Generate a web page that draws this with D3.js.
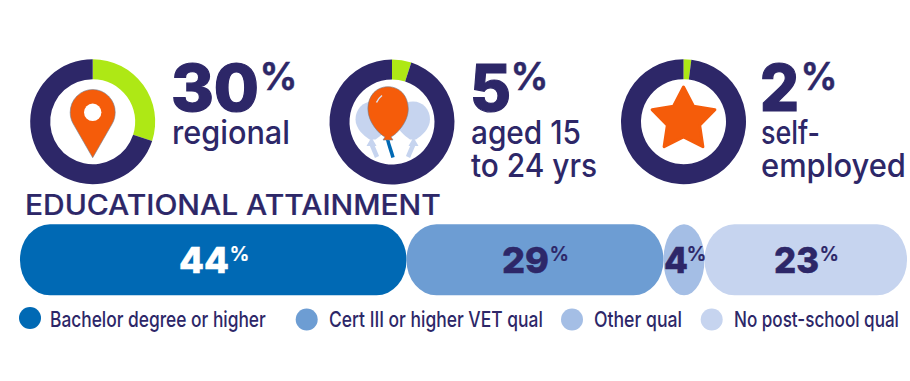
<!DOCTYPE html>
<html><head><meta charset="utf-8">
<script src="https://cdn.jsdelivr.net/npm/d3@7"></script>
<style>html,body{margin:0;background:#fff}svg{display:block}text{font-family:Inter,"Open Sans",sans-serif}</style>
</head><body><div id="c"></div>
<script>
const statValues=[30,5,2];
const statLabels=[["regional"],["aged 15","to 24 yrs"],["self-","employed"]];
const eduCategories=["Bachelor degree or higher","Cert III or higher VET qual","Other qual","No post-school qual"];
const eduValues=[44,29,4,23];
const eduColors=["#0069b4","#6d9dd3","#a4bee5","#c6d4ef"];
const navy="#2d2768",green="#aee815",orange="#f55c0a";

const W=910,H=381;
const svg=d3.select("#c").append("svg").attr("width",W).attr("height",H);

// Places a real text at x,y and scales it horizontally so that it is w pixels wide.
function fit(sel,x,y,w,size,weight,fill,str,thick){
  const t=sel.append("text").attr("font-size",size).attr("font-weight",weight)
    .attr("fill",fill).attr("stroke",thick?fill:"none").attr("stroke-width",thick||0).text(str);
  const sx=w/t.node().getComputedTextLength();
  t.attr("transform",`translate(${x},${y}) scale(${sx},1)`);
  return t;
}

// donuts
const donutLayout=[
 {cx:92.7,cy:121.7,numX:171,numW:88,pctX:259.5,pctW:38,labX:172,labW:[118]},
 {cx:392,cy:122,numX:470,numW:41,pctX:510.5,pctW:38,labX:471,labW:[110,126]},
 {cx:683.5,cy:121.7,numX:760,numW:39,pctX:800.5,pctW:37,labX:761,labW:[59,145]}
];
const labelBase=[144,177];
const arc=d3.arc().innerRadius(42.5).outerRadius(62.5);
const pie=d3.pie().sort(null);
statValues.forEach((v,i)=>{
  const L=donutLayout[i];
  const g=svg.append("g").attr("transform",`translate(${L.cx},${L.cy})`);
  g.selectAll("path").data(pie([v,100-v])).join("path").attr("d",arc)
    .attr("fill",(d,j)=>j==0?green:navy);
  fit(svg,L.numX,111,L.numW,64,800,navy,String(v),1.2);
  fit(svg,L.pctX,90,L.pctW,38,600,navy,"%",.6);
  statLabels[i].forEach((t,j)=>{
    const two=statLabels[i].length>1;
    fit(svg,L.labX,two?labelBase[j]-0.5:labelBase[j],L.labW[j],32,500,navy,t);
  });
});

// icons
const pin=svg.append("g").attr("transform","translate(92.7,112.3)");
pin.append("path").attr("fill",orange).attr("stroke","#6f7f96").attr("stroke-width",.6)
  .attr("d","M0,45.4 L-19.5,11.5 C-21.6,7.8 -22.5,4 -22.5,0 A22.5,22.8 0 1 1 22.5,0 C22.5,4 21.6,7.8 19.5,11.5 Z");
pin.append("circle").attr("r",8.7).attr("fill","#fff");

const b=svg.append("g");
const pale=eduColors[3];
const paleBalloon="M0,-19 C10,-19 17,-11 17,-1 C17,8 9,15 3,19 L-3,19 C-9,15 -17,8 -17,-1 C-17,-11 -10,-19 0,-19Z";
[[372.5,120.5,377,371.5],[413,120.5,408,413.5]].forEach(([cx,cy,ex,kx])=>{
  b.append("path").attr("transform",`translate(${cx},${cy})`).attr("d",paleBalloon).attr("fill",pale);
  b.append("path").attr("d",`M${kx},144 L${ex},157`).attr("stroke",pale).attr("stroke-width",4.5).attr("fill","none");
  b.append("path").attr("d",`M${kx-5},146 L${kx+5},146 L${kx+1},139 L${kx-1},139Z`).attr("fill",pale);
});
b.append("path").attr("d","M387.5,139 C389,146 391,150 393,157.5").attr("stroke",eduColors[0]).attr("stroke-width",3.5).attr("fill","none");
b.append("path").attr("fill",orange).attr("stroke","#6f7f96").attr("stroke-width",.6)
  .attr("d","M388,86.7 C400,86.7 408.3,96 408.3,109 C408.3,122 397,134 391,137 L393,140 L383,140 L385,137 C379,134 367.9,122 367.9,109 C367.9,96 376,86.7 388,86.7Z");
b.append("path").attr("d","M376.5,102.5 C377.5,100 379.5,97.5 382,95.5").attr("stroke","#d8e2f2").attr("stroke-width",1.5).attr("fill","none");

const starPts=d3.range(10).map(k=>[k*Math.PI/5,k%2?17:33]);
svg.append("path").attr("transform","translate(683.5,120)")
  .attr("d",d3.lineRadial().curve(d3.curveLinearClosed)(starPts))
  .attr("fill",orange).attr("stroke",orange).attr("stroke-width",3).attr("stroke-linejoin","round");

// title
fit(svg,25,215,416,28,500,navy,"EDUCATIONAL ATTAINMENT",.2);

// stacked bar
const cum=[0];eduValues.forEach(v=>cum.push(cum[cum.length-1]+v));
const x=d3.scaleLinear().domain(cum).range([20,406.5,663.5,704.5,907]);
const barY=224.3,barH=71;
eduValues.forEach((v,i)=>{
  const x0=x(cum[i]),x1=x(cum[i+1]);
  svg.append("rect").attr("x",x0).attr("y",barY).attr("width",x1-x0).attr("height",barH)
    .attr("rx",Math.min(30,(x1-x0)/2)).attr("ry",barH/2-.5).attr("fill",eduColors[i]);
});
const barLabels=[[179,50,229.5,20],[502,47,549.5,19.5],[664,24,686.5,20],[774,45,819.5,19.5]];
eduValues.forEach((v,i)=>{
  const c=i==0?"#fff":navy,[a,aw,p,pw]=barLabels[i];
  fit(svg,a,273,aw,36,800,c,String(v),.5);
  fit(svg,p,261,pw,20.5,600,c,"%",.2);
});

// legend
const legend=[[30,318,50,216],[306.7,319.5,329,214],[572,319.5,594,88],[711.7,319.5,734,165]];
eduCategories.forEach((t,i)=>{
  const [cx,cy,tx,tw]=legend[i];
  svg.append("circle").attr("cx",cx).attr("cy",cy).attr("r",11).attr("fill",eduColors[i]);
  fit(svg,tx,327,tw,22,500,navy,t);
});
</script></body></html>
